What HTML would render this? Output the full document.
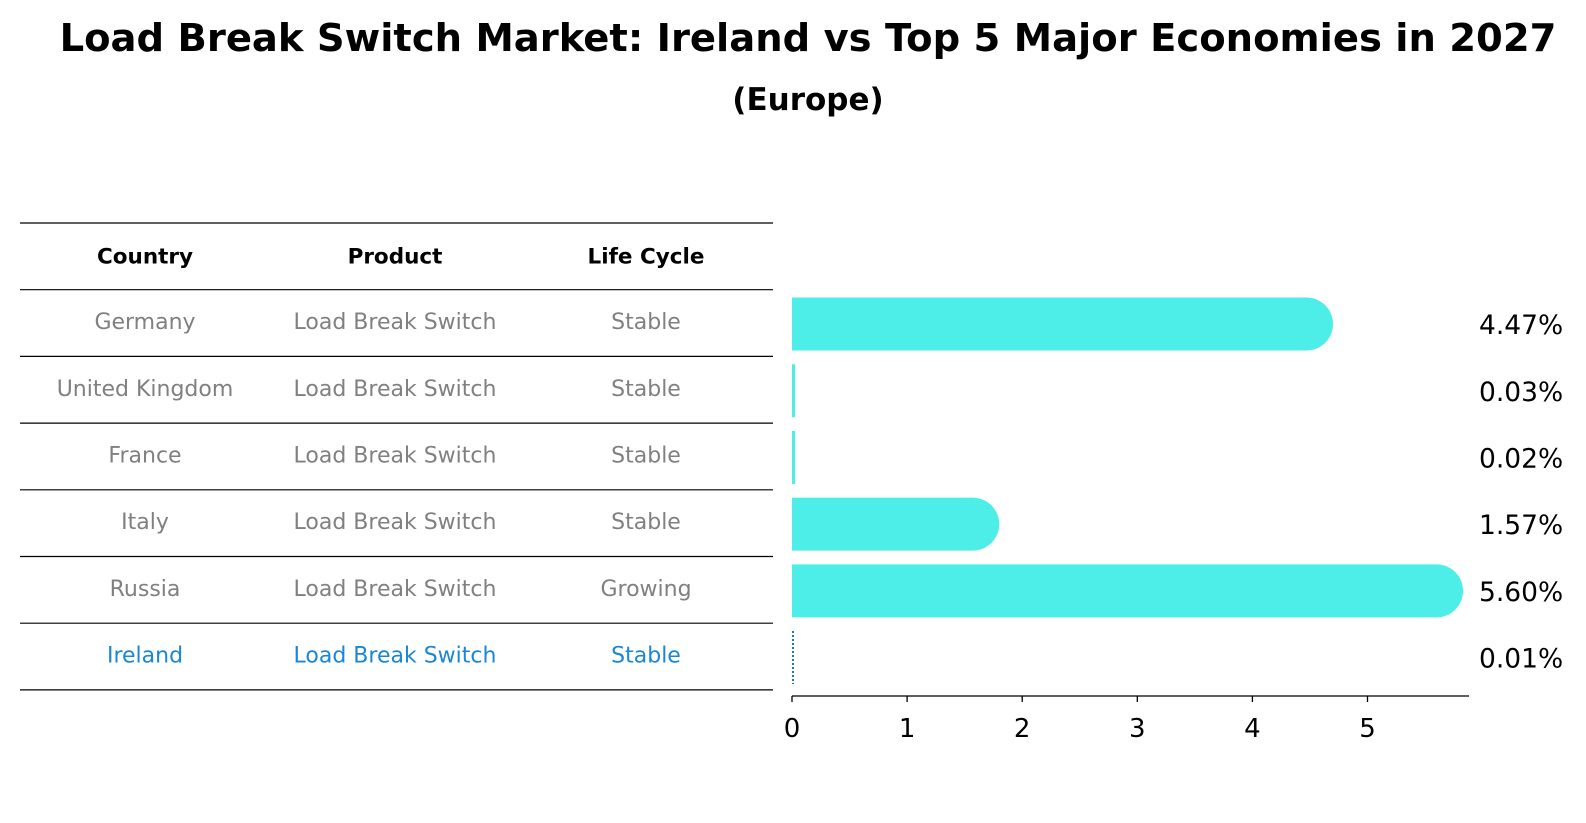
<!DOCTYPE html>
<html><head><meta charset="utf-8">
<style>
body{margin:0;background:#fff;font-family:"DejaVu Sans","Liberation Sans",sans-serif;}
#wrap{position:relative;width:1586px;height:823px;overflow:hidden;}
</style></head>
<body><div id="wrap">
<svg id="svg" width="1586" height="823" xmlns="http://www.w3.org/2000/svg" font-family="DejaVu Sans, Liberation Sans, sans-serif">
<text x="808" y="51" text-anchor="middle" font-size="38.5" font-weight="bold">Load Break Switch Market: Ireland vs Top 5 Major Economies in 2027</text>
<text x="808" y="110" text-anchor="middle" font-size="31" font-weight="bold">(Europe)</text>
<g id="table"></g>
<g id="bars"></g>
</svg>
<script>
const countries=["Germany","United Kingdom","France","Italy","Russia","Ireland"];
const products=["Load Break Switch","Load Break Switch","Load Break Switch","Load Break Switch","Load Break Switch","Load Break Switch"];
const lifecycles=["Stable","Stable","Stable","Stable","Growing","Stable"];
const values=[4.47,0.03,0.02,1.57,5.60,0.01];
const valueLabels=["4.47%","0.03%","0.02%","1.57%","5.60%","0.01%"];
const ticks=[0,1,2,3,4,5];
const NS="http://www.w3.org/2000/svg";
const tbl=document.getElementById('table');
const bars=document.getElementById('bars');
function mk(tag,attrs,parent){const e=document.createElementNS(NS,tag);for(const k in attrs)e.setAttribute(k,attrs[k]);parent.appendChild(e);return e;}
const lineTop=223, rowH=66.7, tx0=20, tx1=773;
const colX=[145,395,646];
const x0=792, unit=115.1, axisY=696, axisEnd=1469;
function xs(v){return x0+v*unit;}
function rowC(i){return lineTop+rowH*(i+1.5);}
for(let i=0;i<=countries.length+1;i++){
  const l=mk('line',{x1:tx0,x2:tx1,y1:lineTop+rowH*i,y2:lineTop+rowH*i,stroke:'#000','stroke-width':1.2},tbl);
  
  
}
["Country","Product","Life Cycle"].forEach((h,j)=>{
  const t=mk('text',{x:colX[j],y:lineTop+rowH*0.5+7,'text-anchor':'middle','font-size':21.5,'font-weight':'bold'},tbl);
  t.textContent=h;
  
  
});
countries.forEach((c,i)=>{
  const col=i===countries.length-1?'#1a87d6':'#808080';
  [c,products[i],lifecycles[i]].forEach((s,j)=>{
    const t=mk('text',{x:colX[j],y:rowC(i)+6,'text-anchor':'middle','font-size':22,fill:col},tbl);
    t.textContent=s;
    
    
  });
});
const bh=53, r=bh/2;
values.forEach((v,i)=>{
  const cy=rowC(i)+1;
  if(i===values.length-1){
    const l=mk('line',{x1:x0+1,x2:x0+1,y1:cy-bh/2,y2:cy+bh/2,stroke:'#1f77b4','stroke-width':2,'stroke-dasharray':'2,2'},bars);
    
    
  } else {
    const w=xs(v)-x0;
    let p;
    if(w>r){
      p=mk('path',{d:`M${x0},${cy-r} H${xs(v)} A${r},${r} 0 0 1 ${xs(v)},${cy+r} H${x0} Z`,fill:'#4deee8'},bars);
    } else {
      p=mk('rect',{x:x0,y:cy-r,width:3,height:bh,fill:'#4deee8'},bars);
    }
    
    
  }
  const t=mk('text',{x:1479,y:cy+10,'font-size':26.5},bars);
  t.textContent=valueLabels[i];
  
  
});
const ax=mk('line',{x1:x0,x2:axisEnd,y1:axisY,y2:axisY,stroke:'#000','stroke-width':1.3},bars);


ticks.forEach(tv=>{
  const l=mk('line',{x1:xs(tv),x2:xs(tv),y1:axisY,y2:axisY+6,stroke:'#000','stroke-width':1.3},bars);
  
  
  const t=mk('text',{x:xs(tv),y:axisY+41,'text-anchor':'middle','font-size':26},bars);
  t.textContent=tv;
  
  
});
</script>
</div></body></html>
